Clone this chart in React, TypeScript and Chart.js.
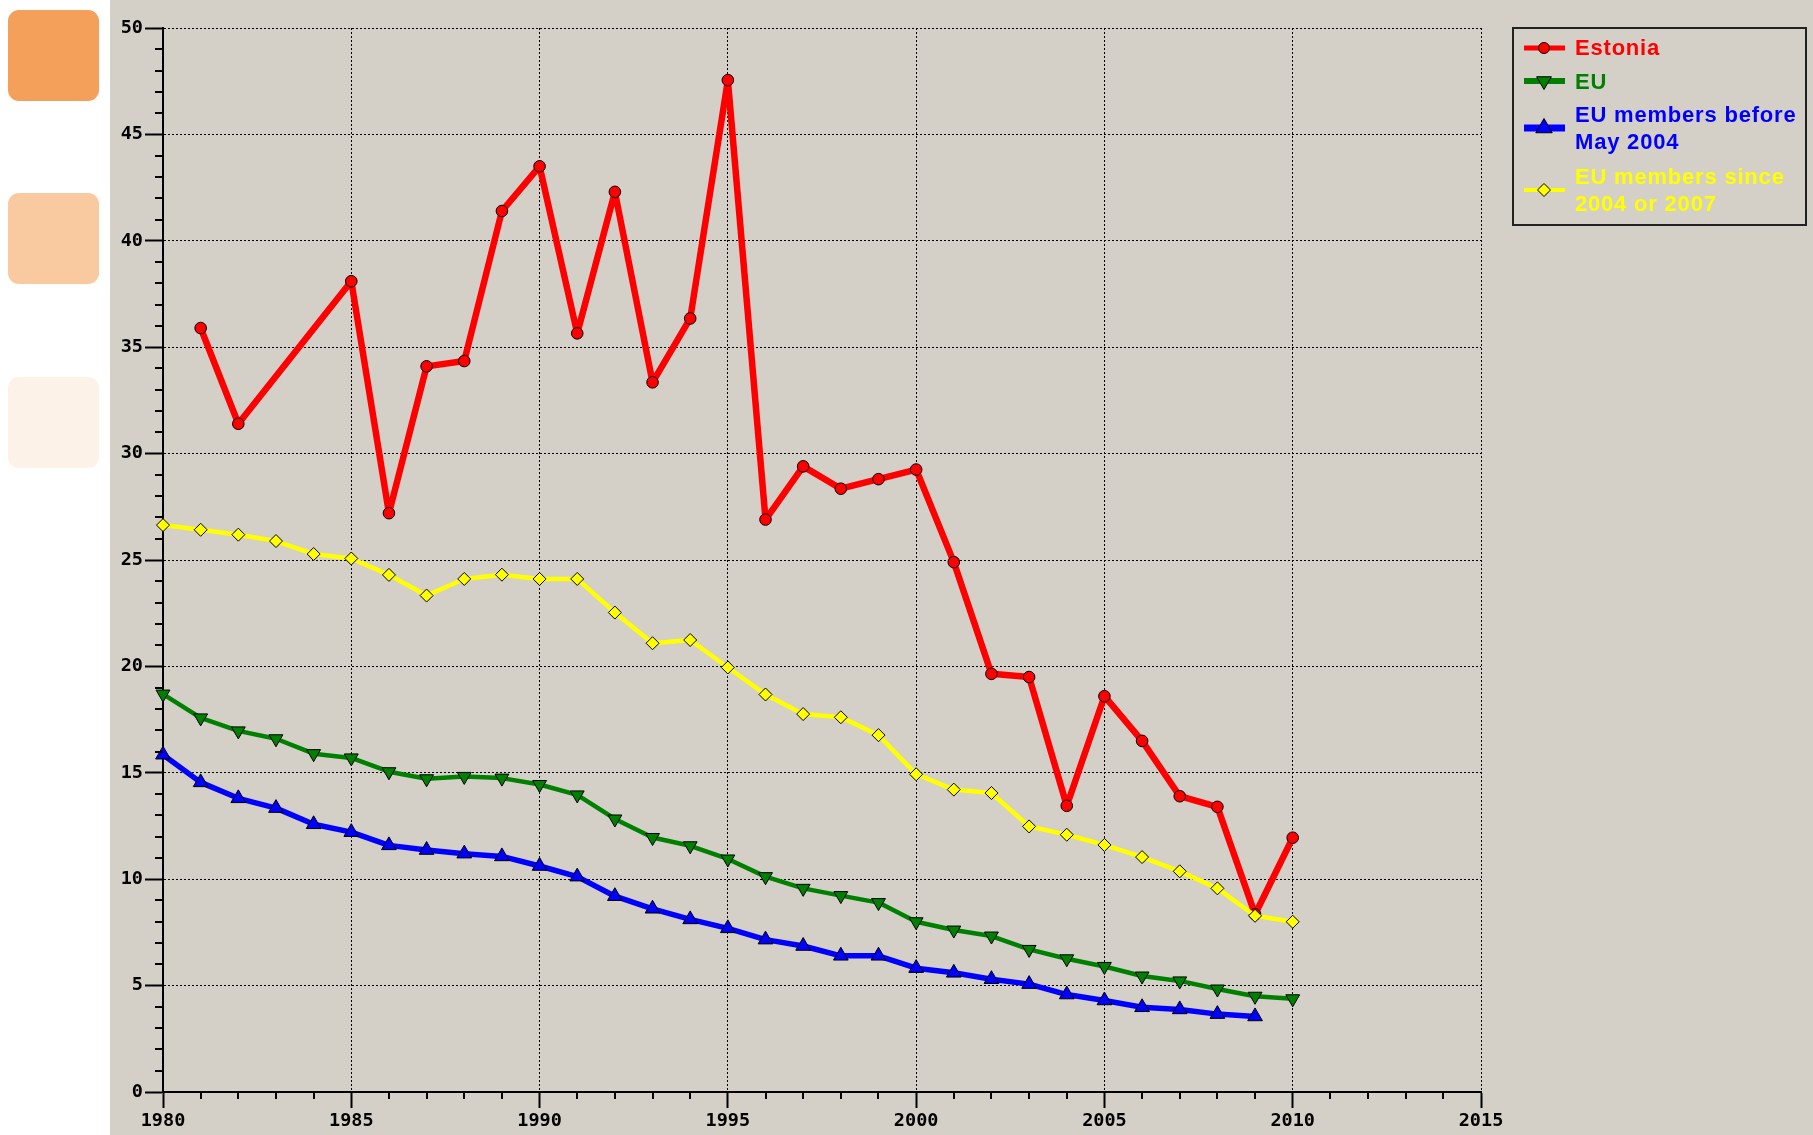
import React, { useEffect, useRef } from 'react';
import { Chart, registerables } from 'chart.js';

Chart.register(...registerables);

// ---------- data ----------
const years = [
  1980, 1981, 1982, 1983, 1984, 1985, 1986, 1987, 1988, 1989,
  1990, 1991, 1992, 1993, 1994, 1995, 1996, 1997, 1998, 1999,
  2000, 2001, 2002, 2003, 2004, 2005, 2006, 2007, 2008, 2009, 2010,
];

const estonia: (number | null)[] = [
  null, 35.9, 31.4, null, null, 38.1, 27.2, 34.1, 34.35, 41.4,
  43.5, 35.65, 42.3, 33.35, 36.35, 47.55, 26.9, 29.4, 28.35, 28.8,
  29.25, 24.9, 19.65, 19.5, 13.45, 18.6, 16.5, 13.9, 13.4, 8.35, 11.95,
];

const eu: (number | null)[] = [
  18.7, 17.58, 16.97, 16.6, 15.9, 15.7, 15.05, 14.72, 14.83, 14.75,
  14.45, 13.96, 12.83, 11.96, 11.57, 10.95, 10.12, 9.57, 9.23, 8.9,
  8.0, 7.61, 7.33, 6.7, 6.26, 5.9, 5.45, 5.22, 4.84, 4.5, 4.38,
];

const euBefore2004: (number | null)[] = [
  15.85, 14.55, 13.8, 13.34, 12.58, 12.21, 11.59, 11.37, 11.2, 11.07,
  10.62, 10.12, 9.2, 8.61, 8.11, 7.69, 7.16, 6.86, 6.4, 6.4,
  5.82, 5.6, 5.3, 5.07, 4.58, 4.3, 3.98, 3.88, 3.66, 3.55, null,
];

const euSince2004: (number | null)[] = [
  26.64, 26.42, 26.19, 25.89, 25.28, 25.07, 24.3, 23.33, 24.11, 24.31,
  24.11, 24.11, 22.53, 21.09, 21.24, 19.95, 18.68, 17.76, 17.61, 16.77,
  14.93, 14.21, 14.05, 12.48, 12.09, 11.61, 11.04, 10.37, 9.57, 8.28, 8.0,
];

const legendLabels: string[][] = [
  ['Estonia'],
  ['EU'],
  ['EU members before', 'May 2004'],
  ['EU members since', '2004 or 2007'],
];

const xMin = 1980;
const xMax = 2015;
const yMin = 0;
const yMax = 50;
const majorStep = 5;

// ---------- helpers ----------
const toPoints = (vals: (number | null)[]) =>
  years.map((yr, i) => ({ x: yr, y: vals[i] }));

function drawMarker(ctx: CanvasRenderingContext2D, style: string, x: number, y: number, r: number, fill: string, rot = 0) {
  ctx.save();
  ctx.beginPath();
  if (style === 'circle') {
    ctx.arc(x, y, r, 0, Math.PI * 2);
  } else if (style === 'triangle') {
    let a = (rot * Math.PI) / 180;
    for (let k = 0; k < 3; k++) {
      const px = x + Math.sin(a) * r;
      const py = y - Math.cos(a) * r;
      if (k === 0) ctx.moveTo(px, py);
      else ctx.lineTo(px, py);
      a += (2 * Math.PI) / 3;
    }
    ctx.closePath();
  } else if (style === 'rectRot') {
    ctx.moveTo(x, y - r);
    ctx.lineTo(x + r, y);
    ctx.lineTo(x, y + r);
    ctx.lineTo(x - r, y);
    ctx.closePath();
  }
  ctx.fillStyle = fill;
  ctx.fill();
  ctx.lineWidth = 1;
  ctx.strokeStyle = '#000';
  ctx.stroke();
  ctx.restore();
}

const boxLegendPlugin = {
  id: 'boxLegend',
  afterDraw(chart: any) {
    const ctx: CanvasRenderingContext2D = chart.ctx;
    ctx.save();
    const bx = 1513, by = 28, bw = 293, bh = 197;
    ctx.lineWidth = 2;
    ctx.strokeStyle = '#222';
    ctx.strokeRect(bx, by, bw, bh);

    const sampleY = [48, 81, 128, 190];
    const baselines = [[55], [89], [122, 149], [184, 211]];
    const sampleWidths = [5, 6, 7, 4];
    const markerR = [5.5, 8.5, 9.5, 6.5];
    chart.data.datasets.forEach((ds: any, i: number) => {
      const y = sampleY[i];
      ctx.beginPath();
      ctx.moveTo(1524, y);
      ctx.lineTo(1565, y);
      ctx.lineWidth = sampleWidths[i];
      ctx.strokeStyle = ds.borderColor;
      ctx.stroke();
      drawMarker(ctx, ds.pointStyle, 1544, y, markerR[i], ds.pointBackgroundColor, ds.pointRotation || 0);
      ctx.font = 'bold 22px "Liberation Sans", Arial, sans-serif';
      (ctx as any).letterSpacing = '0.8px';
      ctx.textBaseline = 'alphabetic';
      ctx.textAlign = 'left';
      ctx.fillStyle = ds.borderColor;
      legendLabels[i].forEach((line, k) => {
        ctx.fillText(line, 1575, baselines[i][k]);
      });
    });
    ctx.restore();
  },
};

const minorTicksPlugin = {
  id: 'minorTicks',
  afterDraw(chart: any) {
    const ctx: CanvasRenderingContext2D = chart.ctx;
    const xs = chart.scales.x;
    const ys = chart.scales.y;
    const area = chart.chartArea;
    ctx.save();
    ctx.strokeStyle = '#000';
    ctx.lineWidth = 2;
    ctx.beginPath();
    for (let v = yMin; v <= yMax; v++) {
      if (v % majorStep === 0) continue;
      const py = Math.round(ys.getPixelForValue(v));
      ctx.moveTo(area.left - 8, py);
      ctx.lineTo(area.left, py);
    }
    for (let v = xMin; v <= xMax; v++) {
      if (v % majorStep === 0) continue;
      const px = Math.round(xs.getPixelForValue(v));
      ctx.moveTo(px, area.bottom);
      ctx.lineTo(px, area.bottom + 7);
    }
    ctx.stroke();
    ctx.restore();
  },
};

const tickFont = { family: '"DejaVu Sans Mono", monospace', weight: 'bold' as const, size: 18.5 };

export default function App() {
  const canvasRef = useRef<HTMLCanvasElement | null>(null);

  useEffect(() => {
    if (!canvasRef.current) return;
    const chart = new Chart(canvasRef.current, {
      type: 'line',
      data: {
        datasets: [
          {
            label: 'Estonia',
            data: toPoints(estonia),
            borderColor: '#ff0000',
            backgroundColor: '#ff0000',
            borderWidth: 6.5,
            borderJoinStyle: 'round',
            pointStyle: 'circle',
            pointRadius: 5.8,
            pointBackgroundColor: '#ff0000',
            pointBorderColor: '#000',
            pointBorderWidth: 1,
            spanGaps: true,
            tension: 0,
            clip: false,
            order: 1,
          } as any,
          {
            label: 'EU',
            data: toPoints(eu),
            borderColor: '#008000',
            backgroundColor: '#008000',
            borderWidth: 4.5,
            borderJoinStyle: 'round',
            pointStyle: 'triangle',
            pointRotation: 180,
            pointRadius: 8,
            pointBackgroundColor: '#008000',
            pointBorderColor: '#000',
            pointBorderWidth: 1,
            tension: 0,
            clip: false,
            order: 2,
          } as any,
          {
            label: 'EU members before May 2004',
            data: toPoints(euBefore2004),
            borderColor: '#0000ff',
            backgroundColor: '#0000ff',
            borderWidth: 5.5,
            borderJoinStyle: 'round',
            pointStyle: 'triangle',
            pointRadius: 8.5,
            pointBackgroundColor: '#0000ff',
            pointBorderColor: '#000',
            pointBorderWidth: 1,
            tension: 0,
            clip: false,
            order: 3,
          } as any,
          {
            label: 'EU members since 2004 or 2007',
            data: toPoints(euSince2004),
            borderColor: '#ffff00',
            backgroundColor: '#ffff00',
            borderWidth: 4.5,
            borderJoinStyle: 'round',
            pointStyle: 'rectRot',
            pointRadius: 6.5,
            pointBackgroundColor: '#ffff00',
            pointBorderColor: '#000',
            pointBorderWidth: 1,
            tension: 0,
            clip: false,
            order: 0,
          } as any,
        ],
      },
      options: {
        responsive: false,
        animation: false,
        devicePixelRatio: 1,
        layout: { padding: { left: 110, right: 332, top: 28, bottom: 0 } },
        plugins: { legend: { display: false }, tooltip: { enabled: false } },
        scales: {
          x: {
            type: 'linear',
            min: xMin,
            max: xMax,
            ticks: {
              stepSize: majorStep,
              autoSkip: false,
              maxRotation: 0,
              padding: 2,
              color: '#000',
              font: tickFont,
              callback: (v: any) => String(v),
            },
            grid: { color: '#000', lineWidth: 1, tickLength: 16, tickWidth: 2, tickColor: '#000' },
            border: { display: true, color: '#000', width: 2, dash: [2, 2] },
            afterFit: (s: any) => { s.height = 43; },
          },
          y: {
            type: 'linear',
            min: yMin,
            max: yMax,
            ticks: {
              stepSize: majorStep,
              autoSkip: false,
              padding: 2,
              color: '#000',
              font: tickFont,
              callback: (v: any) => String(v),
            },
            grid: { color: '#000', lineWidth: 1, tickLength: 18, tickWidth: 2, tickColor: '#000' },
            border: { display: true, color: '#000', width: 2, dash: [2, 2] },
            afterFit: (s: any) => { s.width = 53; },
          },
        } as any,
      },
      plugins: [boxLegendPlugin, minorTicksPlugin],
    });
    return () => chart.destroy();
  }, []);

  const swatch = (top: number, color: string): React.CSSProperties => ({
    position: 'absolute', left: 8, top, width: 91, height: 91, borderRadius: 11, background: color,
  });

  return (
    <div style={{ position: 'fixed', left: 0, top: 0, width: 1813, height: 1135, background: '#ffffff', overflow: 'hidden' }}>
      <div style={swatch(10, '#f5a05a')} />
      <div style={swatch(193, '#f9caa0')} />
      <div style={swatch(377, '#fdf2e7')} />
      <div style={{ position: 'absolute', left: 110, top: 0, width: 1703, height: 1135, background: '#d4d0c8' }} />
      <canvas ref={canvasRef} width={1813} height={1135} style={{ position: 'absolute', left: 0, top: 0, width: 1813, height: 1135 }} />
    </div>
  );
}
